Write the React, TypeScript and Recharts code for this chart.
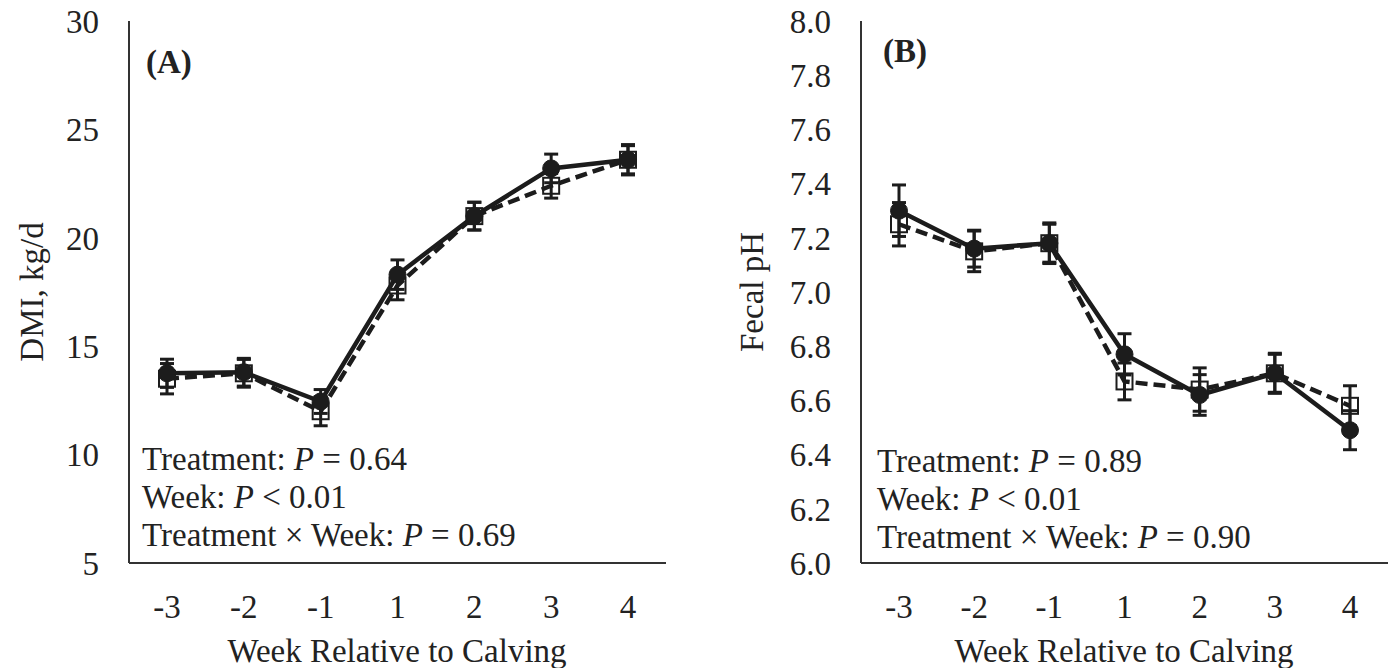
import React from 'react';
import { LineChart, Line, XAxis, YAxis, ErrorBar } from 'recharts';

const weeks = ['-3', '-2', '-1', '1', '2', '3', '4'];

// Panel A: DMI, kg/d
const dmiSolid = [13.75, 13.8, 12.45, 18.3, 21.0, 23.2, 23.6];
const dmiSolidSE = [0.65, 0.64, 0.55, 0.68, 0.64, 0.66, 0.7];
const dmiDashed = [13.5, 13.75, 12.0, 17.8, 21.0, 22.4, 23.6];
const dmiDashedSE = [0.7, 0.64, 0.67, 0.66, 0.64, 0.57, 0.65];
const dmiTicks = [5, 10, 15, 20, 25, 30];

// Panel B: Fecal pH
const phSolid = [7.3, 7.16, 7.18, 6.77, 6.62, 6.7, 6.49];
const phSolidSE = [0.095, 0.068, 0.07, 0.076, 0.075, 0.074, 0.072];
const phDashed = [7.25, 7.15, 7.18, 6.67, 6.64, 6.7, 6.58];
const phDashedSE = [0.08, 0.075, 0.075, 0.068, 0.08, 0.07, 0.074];
const phTicks = [6.0, 6.2, 6.4, 6.6, 6.8, 7.0, 7.2, 7.4, 7.6, 7.8, 8.0];

const dmiData = weeks.map((w, i) => ({
  week: w,
  solid: dmiSolid[i],
  solidSE: dmiSolidSE[i],
  dashed: dmiDashed[i],
  dashedSE: dmiDashedSE[i],
}));

const phData = weeks.map((w, i) => ({
  week: w,
  solid: phSolid[i],
  solidSE: phSolidSE[i],
  dashed: phDashed[i],
  dashedSE: phDashedSE[i],
}));

const FONT = '"Liberation Serif", "Times New Roman", serif';
const INK = '#1c1c1c';
const TEXT = '#222';
const FS = 33;

const squareDot = (props: any) => {
  const { cx, cy, index } = props;
  if (cx == null || cy == null) return <g key={`sq-${index}`} />;
  return (
    <rect
      key={`sq-${index}`}
      x={cx - 8}
      y={cy - 8}
      width={16}
      height={16}
      fill="none"
      stroke={INK}
      strokeWidth={2}
    />
  );
};

const tickStyle = { fontSize: FS, fill: TEXT, fontFamily: FONT };

function Panel(props: {
  data: any[];
  width: number;
  yWidth: number;
  rightMargin: number;
  pad: number;
  domain: [number, number];
  ticks: number[];
  fmt?: (v: number) => string;
}) {
  const { data, width, yWidth, rightMargin, pad, domain, ticks, fmt } = props;
  return (
    <LineChart
      width={width}
      height={668}
      data={data}
      margin={{ top: 21, right: rightMargin, bottom: 0, left: 0 }}
    >
      <XAxis
        dataKey="week"
        height={105}
        padding={{ left: pad, right: pad }}
        tickLine={false}
        tickSize={0}
        tickMargin={32}
        axisLine={{ stroke: '#333', strokeWidth: 2 }}
        tick={tickStyle}
        interval={0}
      />
      <YAxis
        type="number"
        domain={domain}
        ticks={ticks}
        width={yWidth}
        tickLine={false}
        tickSize={0}
        tickMargin={30}
        axisLine={{ stroke: '#333', strokeWidth: 2 }}
        tick={tickStyle}
        tickFormatter={fmt}
        interval={0}
        allowDataOverflow
      />
      <Line
        type="linear"
        dataKey="dashed"
        stroke={INK}
        strokeWidth={4.5}
        strokeDasharray="12 6"
        dot={squareDot}
        activeDot={false}
        isAnimationActive={false}
      >
        <ErrorBar dataKey="dashedSE" direction="y" width={7} stroke={INK} strokeWidth={3} />
      </Line>
      <Line
        type="linear"
        dataKey="solid"
        stroke={INK}
        strokeWidth={4.5}
        dot={{ r: 8.5, fill: INK, stroke: INK, strokeWidth: 1 }}
        activeDot={false}
        isAnimationActive={false}
      >
        <ErrorBar dataKey="solidSE" direction="y" width={7} stroke={INK} strokeWidth={3} />
      </Line>
    </LineChart>
  );
}

function Stats(props: { x: number; y0: number; vals: string[] }) {
  const { x, y0, vals } = props;
  const lines = [
    ['Treatment: ', ' = ' + vals[0]],
    ['Week: ', ' < ' + vals[1]],
    ['Treatment \u00d7 Week: ', ' = ' + vals[2]],
  ];
  return (
    <g>
      {lines.map((l, i) => (
        <text key={i} x={x} y={y0 + i * 38} fontSize={FS} fontFamily={FONT} fill={TEXT}>
          {l[0]}
          <tspan fontStyle="italic">P</tspan>
          {l[1]}
        </text>
      ))}
    </g>
  );
}

export default function App() {
  return (
    <div
      style={{
        position: 'absolute',
        left: 0,
        top: 0,
        width: 1389,
        height: 668,
        background: '#fff',
        overflow: 'hidden',
      }}
    >
      <div style={{ position: 'absolute', left: 0, top: 0 }}>
        <Panel data={dmiData} width={700} yWidth={129} rightMargin={34} pad={38} domain={[5, 30]} ticks={dmiTicks} />
      </div>
      <div style={{ position: 'absolute', left: 700, top: 0 }}>
        <Panel
          data={phData}
          width={689}
          yWidth={161}
          rightMargin={1}
          pad={38}
          domain={[6, 8]}
          ticks={phTicks}
          fmt={(v: number) => v.toFixed(1)}
        />
      </div>
      <svg
        width={1389}
        height={668}
        style={{ position: 'absolute', left: 0, top: 0, pointerEvents: 'none' }}
      >
        <text x={146} y={73} fontSize={FS} fontWeight="bold" fontFamily={FONT} fill={TEXT}>(A)</text>
        <text x={883} y={62} fontSize={FS} fontWeight="bold" fontFamily={FONT} fill={TEXT}>(B)</text>
        <text
          transform="translate(43,292) rotate(-90)"
          textAnchor="middle"
          fontSize={FS}
          fontFamily={FONT}
          fill={TEXT}
        >
          DMI, kg/d
        </text>
        <text
          transform="translate(763,292) rotate(-90)"
          textAnchor="middle"
          fontSize={FS}
          fontFamily={FONT}
          fill={TEXT}
        >
          Fecal pH
        </text>
        <text x={397} y={662} textAnchor="middle" fontSize={FS} fontFamily={FONT} fill={TEXT}>
          Week Relative to Calving
        </text>
        <text x={1124} y={662} textAnchor="middle" fontSize={FS} fontFamily={FONT} fill={TEXT}>
          Week Relative to Calving
        </text>
        <Stats x={142} y0={470} vals={['0.64', '0.01', '0.69']} />
        <Stats x={877} y0={472} vals={['0.89', '0.01', '0.90']} />
      </svg>
    </div>
  );
}
